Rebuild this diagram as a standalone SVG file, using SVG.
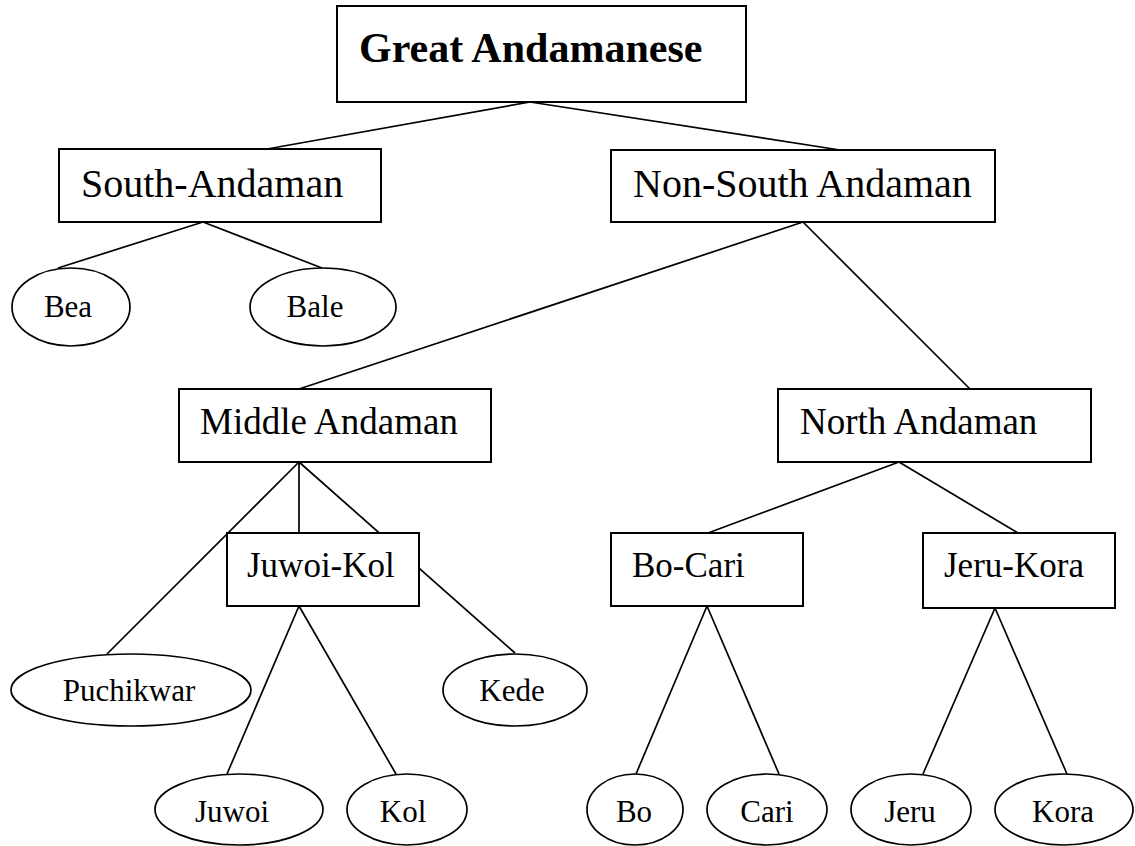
<svg xmlns="http://www.w3.org/2000/svg" width="1135" height="846" viewBox="0 0 1135 846">
  <style>
    .box { fill: #fff; stroke: #000; stroke-width: 2; }
    .oval { fill: #fff; stroke: #000; stroke-width: 1.7; }
    .edge { stroke: #000; stroke-width: 1.7; fill: none; }
    text { font-family: "Liberation Serif", "Times New Roman", serif; fill: #000; }
    .t-root { font-size: 42px; font-weight: bold; }
    .t-l1 { font-size: 40px; }
    .t-l2 { font-size: 37px; }
    .t-l3 { font-size: 35px; }
    .t-leaf { font-size: 31px; text-anchor: middle; }
  </style>
  <rect width="1135" height="846" fill="#fff"/>

  <!-- tree edges, drawn beneath the nodes -->
  <g id="connectors">
    <line class="edge" x1="530" y1="102" x2="267" y2="149"/>
    <line class="edge" x1="530" y1="102" x2="840" y2="150"/>
    <line class="edge" x1="203" y1="222" x2="58" y2="268"/>
    <line class="edge" x1="203" y1="222" x2="322" y2="268"/>
    <line class="edge" x1="803" y1="222" x2="299" y2="389"/>
    <line class="edge" x1="803" y1="222" x2="970" y2="389"/>
    <line class="edge" x1="299" y1="462" x2="107" y2="654"/>
    <line class="edge" x1="299" y1="462" x2="299" y2="533"/>
    <line class="edge" x1="299" y1="462" x2="515" y2="653"/>
    <line class="edge" x1="299" y1="606" x2="227" y2="774"/>
    <line class="edge" x1="299" y1="606" x2="396" y2="774"/>
    <line class="edge" x1="899" y1="462" x2="708" y2="533"/>
    <line class="edge" x1="899" y1="462" x2="1018" y2="533"/>
    <line class="edge" x1="707" y1="606" x2="636" y2="774"/>
    <line class="edge" x1="707" y1="606" x2="779" y2="774"/>
    <line class="edge" x1="995" y1="608" x2="923" y2="774"/>
    <line class="edge" x1="995" y1="608" x2="1067" y2="774"/>
  </g>

  <g id="great-andamanese">
    <rect class="box" x="337" y="6" width="409" height="96"/>
    <text class="t-root" x="359" y="62">Great Andamanese</text>
  </g>

  <g id="south-andaman">
    <rect class="box" x="59" y="149" width="322" height="73"/>
    <text class="t-l1" x="81" y="197">South-Andaman</text>
  </g>

  <g id="non-south-andaman">
    <rect class="box" x="611" y="150" width="384" height="72"/>
    <text class="t-l1" x="633" y="197">Non-South Andaman</text>
  </g>

  <g id="bea">
    <ellipse class="oval" cx="71" cy="307" rx="59" ry="39"/>
    <text class="t-leaf" x="68" y="317">Bea</text>
  </g>

  <g id="bale">
    <ellipse class="oval" cx="323" cy="307" rx="73" ry="39"/>
    <text class="t-leaf" x="315" y="317">Bale</text>
  </g>

  <g id="middle-andaman">
    <rect class="box" x="179" y="389" width="312" height="73"/>
    <text class="t-l2" x="200" y="434">Middle Andaman</text>
  </g>

  <g id="north-andaman">
    <rect class="box" x="778" y="389" width="313" height="73"/>
    <text class="t-l2" x="800" y="434">North Andaman</text>
  </g>

  <g id="juwoi-kol">
    <rect class="box" x="227" y="533" width="192" height="73"/>
    <text class="t-l3" x="247" y="577">Juwoi-Kol</text>
  </g>

  <g id="bo-cari">
    <rect class="box" x="611" y="533" width="192" height="73"/>
    <text class="t-l3" x="632" y="577">Bo-Cari</text>
  </g>

  <g id="jeru-kora">
    <rect class="box" x="923" y="533" width="192" height="75"/>
    <text class="t-l3" x="944" y="577">Jeru-Kora</text>
  </g>

  <g id="puchikwar">
    <ellipse class="oval" cx="131" cy="690" rx="120" ry="36"/>
    <text class="t-leaf" x="129" y="701">Puchikwar</text>
  </g>

  <g id="kede">
    <ellipse class="oval" cx="515" cy="690" rx="72" ry="36"/>
    <text class="t-leaf" x="512" y="701">Kede</text>
  </g>

  <g id="juwoi">
    <ellipse class="oval" cx="239" cy="809.5" rx="84" ry="35.5"/>
    <text class="t-leaf" x="232" y="822">Juwoi</text>
  </g>

  <g id="kol">
    <ellipse class="oval" cx="407" cy="809.5" rx="60" ry="35.5"/>
    <text class="t-leaf" x="403" y="822">Kol</text>
  </g>

  <g id="bo">
    <ellipse class="oval" cx="635" cy="809.5" rx="48" ry="35.5"/>
    <text class="t-leaf" x="634" y="822">Bo</text>
  </g>

  <g id="cari">
    <ellipse class="oval" cx="767" cy="809.5" rx="60" ry="35.5"/>
    <text class="t-leaf" x="767" y="822">Cari</text>
  </g>

  <g id="jeru">
    <ellipse class="oval" cx="911" cy="809.5" rx="60" ry="35.5"/>
    <text class="t-leaf" x="910" y="822">Jeru</text>
  </g>

  <g id="kora">
    <ellipse class="oval" cx="1064" cy="809.5" rx="69" ry="35.5"/>
    <text class="t-leaf" x="1063" y="822">Kora</text>
  </g>
</svg>
